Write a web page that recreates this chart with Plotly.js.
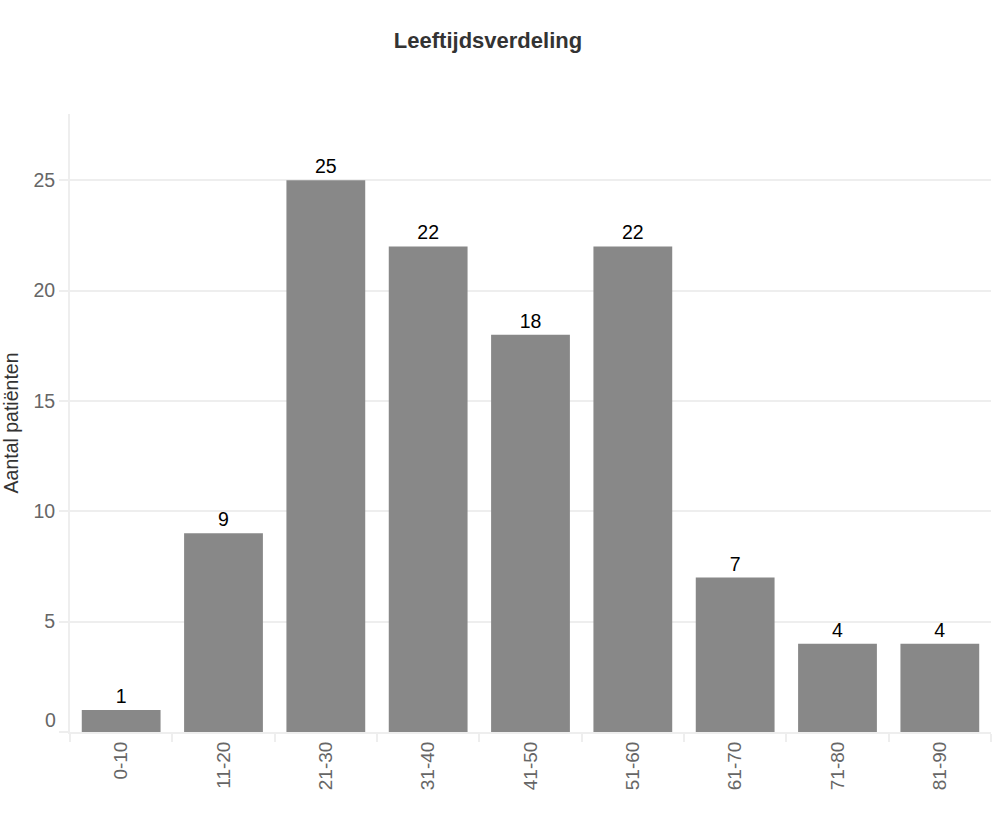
<!DOCTYPE html>
<html>
<head>
<meta charset="utf-8">
<script src="https://cdn.plot.ly/plotly-3.0.1.min.js"></script>
<style>html,body{margin:0;padding:0;background:#fff;}#chart{width:1004px;height:824px;}</style>
</head>
<body>
<div id="chart"></div>
<script>
const categories = ["0-10","11-20","21-30","31-40","41-50","51-60","61-70","71-80","81-90"];
const counts = [1, 9, 25, 22, 18, 22, 7, 4, 4];
const yTickVals = [0, 5, 10, 15, 20, 25];
const yTickText = ["", "5", "10", "15", "20", "25"];
const chartTitle = "Leeftijdsverdeling";
const yTitle = "Aantal patiënten";

const FONT = "Liberation Sans, Arial, sans-serif";

const trace = {
  type: "bar",
  x: categories,
  y: counts,
  marker: {color: "#888888"},
  text: counts.map(String),
  textposition: "outside",
  textfont: {family: FONT, size: 19.5, color: "#000"},
  cliponaxis: false,
  hoverinfo: "x+y"
};

const layout = {
  width: 1004,
  height: 824,
  margin: {l: 70, r: 13, t: 114, b: 92},
  paper_bgcolor: "#fff",
  plot_bgcolor: "#fff",
  font: {family: FONT, size: 19, color: "#666"},
  title: {
    text: "<b>" + chartTitle + "</b>",
    font: {size: 22, color: "#333"},
    xref: "container", x: 488/1004, xanchor: "center",
    yref: "container", y: 1 - 40/824, yanchor: "middle"
  },
  bargap: 0.23,
  showlegend: false,
  xaxis: {
    type: "category",
    tickangle: -90,
    tickson: "boundaries",
    ticks: "outside",
    ticklen: 8,
    tickcolor: "#eeeeee",
    tickwidth: 2,
    showline: true,
    linecolor: "#eeeeee",
    linewidth: 2,
    showgrid: false,
    tickfont: {size: 19, color: "#666"}
  },
  yaxis: {
    range: [0, 28],
    tickmode: "array",
    tickvals: yTickVals,
    ticktext: yTickText,
    ticks: "outside",
    ticklen: 9,
    tickcolor: "#eeeeee",
    tickwidth: 2,
    showline: true,
    linecolor: "#eeeeee",
    linewidth: 2,
    showgrid: true,
    gridcolor: "#eeeeee",
    gridwidth: 2,
    zeroline: false,
    tickfont: {size: 19.5, color: "#666"},
    title: {text: yTitle, font: {size: 19.5, color: "#333"}, standoff: 12}
  },
  annotations: [{
    text: String(yTickVals[0]),
    xref: "paper", x: 0, xanchor: "right", xshift: -12,
    yref: "y", y: yTickVals[0], yanchor: "middle", yshift: 12,
    showarrow: false,
    font: {family: FONT, size: 19.5, color: "#666"}
  }]
};

Plotly.newPlot("chart", [trace], layout, {displayModeBar: false});
</script>
</body>
</html>
